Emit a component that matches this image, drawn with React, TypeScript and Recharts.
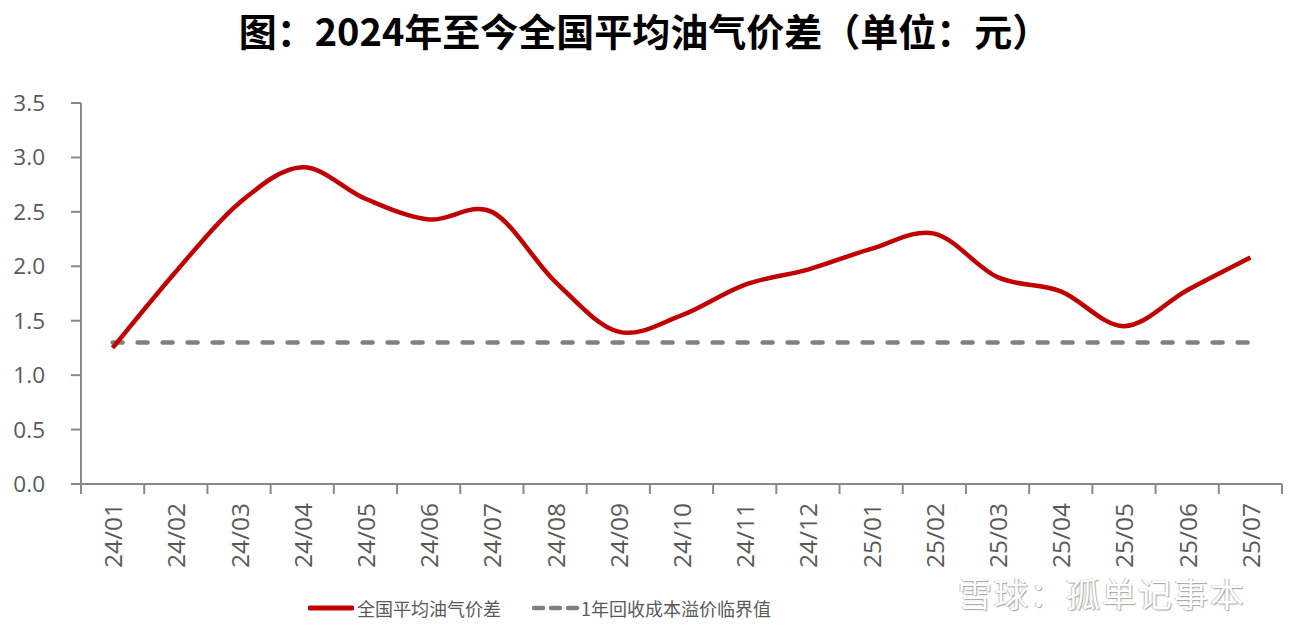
import React from 'react';
import { LineChart, Line, XAxis, YAxis } from 'recharts';

const months = [
  '24/01', '24/02', '24/03', '24/04', '24/05', '24/06', '24/07', '24/08', '24/09', '24/10',
  '24/11', '24/12', '25/01', '25/02', '25/03', '25/04', '25/05', '25/06', '25/07',
];
const spread = [1.25, 1.95, 2.58, 2.91, 2.62, 2.43, 2.5, 1.86, 1.4, 1.55, 1.83, 1.97, 2.16, 2.3, 1.9, 1.77, 1.45, 1.78, 2.08];
const breakEven = [1.3, 1.3, 1.3, 1.3, 1.3, 1.3, 1.3, 1.3, 1.3, 1.3, 1.3, 1.3, 1.3, 1.3, 1.3, 1.3, 1.3, 1.3, 1.3];
const yTicks = [0, 0.5, 1, 1.5, 2, 2.5, 3, 3.5];

const TITLE = '图：2024年至今全国平均油气价差（单位：元）';
const SPREAD_NAME = '全国平均油气价差';
const BREAK_EVEN_NAME = '1年回收成本溢价临界值';

const data = months.map((m, i) => ({ month: m, spread: spread[i], breakEven: breakEven[i] }));

const AXIS = '#898989';
const TEXT = '#595959';
const CJK = '"Microsoft YaHei", "Noto Sans CJK SC", sans-serif';
const NUM = '"Open Sans", "Noto Sans CJK SC", sans-serif';

// excel-style smoothing (catmull-rom as bezier)
const smoothCurve = (context: any) => {
  let pts: [number, number][] = [];
  return {
    areaStart() {},
    areaEnd() {},
    lineStart() {
      pts = [];
    },
    lineEnd() {
      if (!pts.length) return;
      context.moveTo(pts[0][0], pts[0][1]);
      for (let i = 0; i < pts.length - 1; i++) {
        const p0 = pts[Math.max(i - 1, 0)];
        const p1 = pts[i];
        const p2 = pts[i + 1];
        const p3 = pts[Math.min(i + 2, pts.length - 1)];
        context.bezierCurveTo(
          p1[0] + (p2[0] - p0[0]) / 6,
          p1[1] + (p2[1] - p0[1]) / 6,
          p2[0] - (p3[0] - p1[0]) / 6,
          p2[1] - (p3[1] - p1[1]) / 6,
          p2[0],
          p2[1]
        );
      }
    },
    point(x: number, y: number) {
      pts.push([x, y]);
    },
  };
};

const MonthTick = (props: any) => {
  const { x, y, payload, index, width, visibleTicksCount } = props;
  const step = width / visibleTicksCount;
  const last = index === visibleTicksCount - 1;
  return (
    <g>
      <line x1={x - step / 2} x2={x - step / 2} y1={y} y2={y + 10} stroke={AXIS} strokeWidth={2} />
      {last && <line x1={x + step / 2} x2={x + step / 2} y1={y} y2={y + 10} stroke={AXIS} strokeWidth={2} />}
      <text
        x={0}
        y={0}
        transform={`translate(${x},${y + 19}) rotate(-90)`}
        textAnchor="end"
        dominantBaseline="central"
        fontSize={24.5}
        fontFamily={NUM}
        fill={TEXT}
      >
        {payload.value}
      </text>
    </g>
  );
};

const Legend = () => (
  <div
    style={{
      position: 'absolute',
      left: 308,
      top: 595,
      display: 'flex',
      alignItems: 'center',
      fontFamily: CJK,
      fontSize: 18,
      color: TEXT,
      whiteSpace: 'nowrap',
    }}
  >
    <svg width={46} height={10}>
      <line x1={2} x2={44} y1={5} y2={5} stroke="#C00000" strokeWidth={5} strokeLinecap="round" />
    </svg>
    <span style={{ marginLeft: 3 }}>{SPREAD_NAME}</span>
    <svg width={48} height={10} style={{ marginLeft: 31 }}>
      <line x1={2} x2={46} y1={5} y2={5} stroke="#808080" strokeWidth={4.5} strokeDasharray="9 8" strokeLinecap="round" />
    </svg>
    <span style={{ marginLeft: 1 }}>{BREAK_EVEN_NAME}</span>
  </div>
);

export default function App() {
  return (
    <div style={{ position: 'absolute', left: 0, top: 0, width: 1289, height: 630, background: '#fff' }}>
      <div
        style={{
          position: 'absolute',
          left: 0,
          width: 1289,
          top: 7,
          textAlign: 'center',
          fontFamily: CJK,
          fontWeight: 700,
          fontSize: 38,
          color: '#000',
          lineHeight: '46px',
        }}
      >
        {TITLE}
      </div>
      <LineChart width={1289} height={630} data={data} margin={{ top: 103, right: 7, left: 0, bottom: 0 }}>
        <XAxis
          dataKey="month"
          scale="band"
          height={146}
          interval={0}
          tickLine={false}
          tickSize={0}
          tickMargin={0}
          axisLine={{ stroke: AXIS, strokeWidth: 2 }}
          tick={<MonthTick />}
        />
        <YAxis
          width={81}
          domain={[0, 3.5]}
          ticks={yTicks}
          tickFormatter={(v: number) => v.toFixed(1)}
          tickSize={10}
          tickMargin={26}
          axisLine={{ stroke: AXIS, strokeWidth: 2 }}
          tickLine={{ stroke: AXIS, strokeWidth: 2 }}
          tick={{ fontSize: 22.5, fill: TEXT, fontFamily: NUM }}
        />
        <Line
          dataKey="breakEven"
          name={BREAK_EVEN_NAME}
          type="linear"
          stroke="#808080"
          strokeWidth={4.5}
          strokeDasharray="10 15"
          strokeLinecap="round"
          dot={false}
          activeDot={false}
          isAnimationActive={false}
        />
        <Line
          dataKey="spread"
          name={SPREAD_NAME}
          type={smoothCurve as any}
          stroke="#C00000"
          strokeWidth={4.5}
          dot={false}
          activeDot={false}
          isAnimationActive={false}
        />
      </LineChart>
      <Legend />
      <div
        style={{
          position: 'absolute',
          left: 958,
          top: 568,
          fontFamily: CJK,
          fontSize: 34,
          letterSpacing: 2,
          color: '#fff',
          textShadow: '1px 1px 1px #999, -1px 0 1px #bbb',
          opacity: 0.9,
          whiteSpace: 'nowrap',
        }}
      >
        雪球：孤单记事本
      </div>
    </div>
  );
}
